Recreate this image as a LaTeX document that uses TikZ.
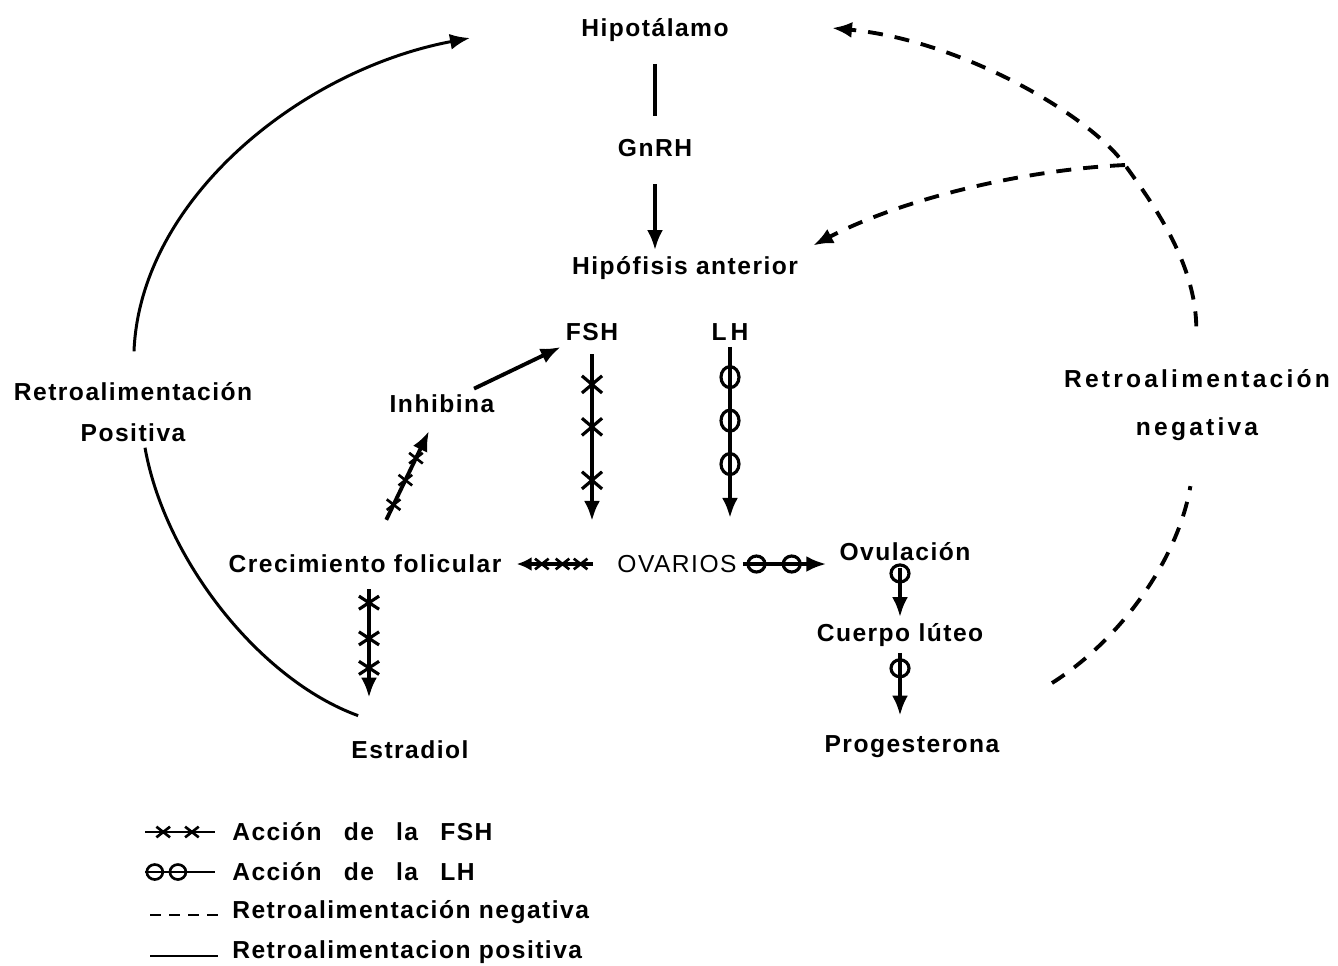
\documentclass[tikz,border=0pt]{standalone}
\usepackage{fontspec}
\setmainfont[LetterSpace=6]{Liberation Sans}
\usetikzlibrary{arrows.meta,shapes.misc,shapes.geometric,calc}
\tikzset{
    lbl/.style = {font=\fontsize{14}{17}\selectfont\bfseries, inner sep=0.12cm, align=center},
    legtxt/.style = {lbl, anchor=west, inner sep=0pt},
    hlink/.style = {draw, line width=2.2pt},
    fshmark/.style = {draw, cross out, line width=1.8pt, minimum width=0.34cm, minimum height=0.28cm,
        inner sep=0pt, shorten <=0pt, shorten >=0pt},
    fshsmall/.style = {fshmark, line width=1.5pt, minimum width=0.22cm, minimum height=0.16cm},
    lhmark/.style = {draw, ellipse, line width=1.8pt, minimum width=0.36cm, minimum height=0.42cm,
        inner sep=0pt, shorten <=0pt, shorten >=0pt},
    posline/.style = {draw, line width=1.7pt},
    negline/.style = {draw, line width=2.2pt, dash pattern=on 0.3cm off 0.24cm}
}

\begin{document}
\begin{tikzpicture}[x=0.02cm, y=-0.02cm, >={Latex[length=4mm,width=3.2mm]}, node distance=2.36cm]
    \useasboundingbox (0,0) rectangle (1338,965);

    % eje hipotalamo - hipofisis
    \node [lbl] (hipot) at (655,30) {Hipotálamo};
    \node [lbl, below of=hipot] (gnrh) {GnRH};
    \node [lbl] (hipof) at (685,268) {Hipófisis anterior};
    \draw [hlink, shorten <=0.32cm, shorten >=0.34cm] (hipot) -- (gnrh);
    \draw [hlink, ->, shorten <=0.42cm] (gnrh.south) -- (gnrh.south |- hipof.north);

    % hormonas y ovario
    \node [lbl] (fsh) at (592,332) {FSH};
    \node [lbl] (lh) at (730,332) {L\,H};
    \node [lbl] (inhib) at (442,404) {Inhibina};
    \node [lbl] (crec) at (365,564) {Crecimiento folicular};
    \node [lbl, font=\fontsize{14}{17}\selectfont] (ovar) at (677,564) {OVARIOS};
    \node [lbl] (ovul) at (905,552) {Ovulación};
    \node [lbl] (cuerpo) at (900,635) {Cuerpo lúteo};
    \node [lbl] (prog) at (912,747) {Progesterona};
    \node [lbl] (estr) at (410,750) {Estradiol};

    \draw [hlink, ->] (inhib) -- (fsh);
    \draw [hlink, ->, shorten <=0.14cm, shorten >=0.56cm] (fsh.south) -- (fsh.south |- ovar.north)
        node [fshmark, pos=0.185] {} node [fshmark, pos=0.395] {} node [fshmark, pos=0.66] {};
    \draw [hlink, ->, shorten >=0.62cm] (lh.south) -- (lh.south |- ovar.north)
        node [lhmark, pos=0.15] {} node [lhmark, pos=0.365] {} node [lhmark, pos=0.58] {};
    \draw [hlink, >={Latex[length=3mm,width=2.8mm]}, ->, shorten <=0.36cm, shorten >=0.18cm] (ovar) -- (crec)
        node [fshsmall, pos=0.295] {} node [fshsmall, pos=0.47] {} node [fshsmall, pos=0.67] {};
    \draw [hlink, ->, shorten >=0.14cm] (ovar.east) -- (ovar.east -| ovul.west)
        node [lhmark, minimum width=0.34cm, minimum height=0.32cm, pos=0.15] {}
        node [lhmark, minimum width=0.34cm, minimum height=0.32cm, pos=0.54] {};
    \draw [hlink, ->, shorten <=0.64cm, shorten >=0.26cm] (crec) -- (inhib)
        node [fshsmall, pos=0.34] {} node [fshsmall, pos=0.53] {} node [fshsmall, pos=0.7] {};
    \draw [hlink, ->, shorten <=0.2cm, shorten >=0.74cm] ([xshift=0.08cm]crec.south) -- ([xshift=0.08cm]crec.south |- estr.north)
        node [fshmark, minimum height=0.2cm, pos=0.15] {} node [fshmark, minimum height=0.2cm, pos=0.38] {}
        node [fshmark, minimum height=0.2cm, pos=0.57] {};
    \draw [hlink, ->] (cuerpo.north |- ovul.south) -- (cuerpo.north)
        node [lhmark, minimum width=0.36cm, minimum height=0.34cm, pos=0.12] {};
    \draw [hlink, ->, shorten >=0.28cm] (cuerpo.south) -- (cuerpo.south |- prog.north)
        node [lhmark, minimum width=0.36cm, minimum height=0.34cm, pos=0.2] {};

    % retroalimentacion positiva
    \node [lbl] (retpos) at (133,412) {Retroalimentación\\[6pt]Positiva};
    \coordinate (posup) at (470,38);
    \draw [posline, ->, shorten <=0.5cm] (retpos.north) .. controls (140,200) and (300,70) .. (posup);
    \draw [posline] ([xshift=0.24cm]retpos.south) .. controls (165,560) and (260,680) .. ([shift={(0.26cm,0.38cm)}]estr.north west);

    % retroalimentacion negativa
    \node [lbl, font=\fontsize{14}{17}\selectfont\bfseries\addfontfeature{LetterSpace=13}] (retneg) at (1197,405) {Retroalimentación\\[10pt]negativa};
    \coordinate (negtip) at (832,28);
    \coordinate (negsplit) at (1125,165);
    \coordinate (negstart) at (1052,683);
    \draw [negline, ->, shorten <=0.74cm] (retneg.north) .. controls (1195,260) and (1150,200) .. (negsplit)
        .. controls (1090,115) and (960,40) .. (negtip);
    \draw [negline, ->, shorten >=0.2cm] (negsplit) .. controls (1020,170) and (900,200) .. (hipof.north east);
    \draw [negline, shorten >=0.8cm] (negstart) .. controls (1120,640) and (1178,560) .. (retneg.south);

    % leyenda
    \node [legtxt] (leg1) at (232,832) {Acción\hspace{0.9em}de\hspace{0.9em}la\hspace{0.9em}FSH};
    \node [legtxt] (leg2) at (232,872) {Acción\hspace{0.9em}de\hspace{0.9em}la\hspace{0.9em}LH};
    \node [legtxt] (leg3) at (232,912) {Retroalimentación negativa};
    \node [legtxt] (leg4) at (232,952) {Retroalimentacion positiva};
    \draw [line width=1.5pt] ([xshift=-1.74cm]leg1.west) -- ([xshift=-0.34cm]leg1.west)
        node [fshsmall, pos=0.26] {} node [fshsmall, pos=0.67] {};
    \draw [line width=1.5pt] ([xshift=-1.74cm]leg2.west) -- ([xshift=-0.34cm]leg2.west)
        node [lhmark, line width=1.5pt, minimum width=0.32cm, minimum height=0.3cm, pos=0.14] {}
        node [lhmark, line width=1.5pt, minimum width=0.32cm, minimum height=0.3cm, pos=0.47] {};
    \draw [line width=1.6pt, dash pattern=on 0.22cm off 0.16cm] ([xshift=-1.64cm,yshift=-0.06cm]leg3.west) -- ([xshift=-0.28cm,yshift=-0.06cm]leg3.west);
    \draw [line width=1.5pt] ([xshift=-1.64cm,yshift=-0.08cm]leg4.west) -- ([xshift=-0.28cm,yshift=-0.08cm]leg4.west);
\end{tikzpicture}
\end{document}
